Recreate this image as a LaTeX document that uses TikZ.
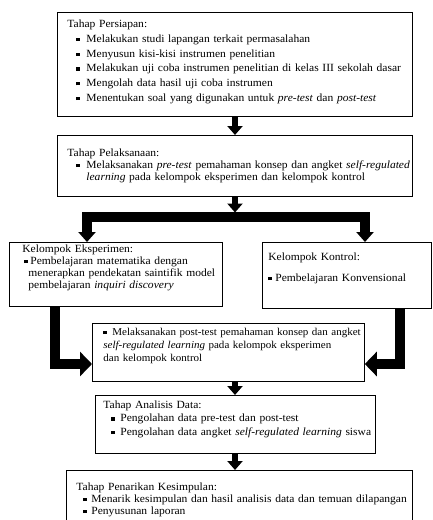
\documentclass[tikz,border=0pt]{standalone}
\usepackage{fontspec}
\setmainfont{Liberation Serif}[FakeStretch=1.05]
\usetikzlibrary{arrows.meta,positioning,calc}

\newcommand{\sqb}{\raisebox{0.25ex}{\rule{3.2pt}{3.2pt}}}
\newcommand{\bul}[2]{\hspace*{#1}\makebox[#2][l]{\sqb}}
\newcommand{\topgap}[1]{\rule{0pt}{#1}}
\newcommand{\botgap}[1]{\rule[-#1]{0pt}{#1}}

\begin{document}
\begin{tikzpicture}[
    x=1pt, y=1pt,
    stagebox/.style={draw, line width=0.8pt, anchor=north west, inner xsep=10pt, inner ysep=0pt, align=left},
    downarrow/.style={line width=6pt, -{Triangle[width=15pt,length=9pt]}},
    splitbar/.style={line width=9.5pt, line join=miter, {Triangle[width=17pt,length=10pt]}-{Triangle[width=17pt,length=10pt]}},
    elbow/.style={line width=10pt, line join=miter, -{Triangle[width=24pt,length=12pt]}}
]
\useasboundingbox (0,0) rectangle (432,-520);
\fill[white] (0,0) rectangle (432,-520);

% Tahap persiapan
\node[stagebox, text width=335pt, font=\fontsize{11}{14.8}\selectfont] (persiapan) at (57,-12) {\begin{tabular}{@{}l@{}}
\topgap{15pt}Tahap Persiapan:\\
\bul{9pt}{10pt}Melakukan studi lapangan terkait permasalahan\\
\bul{9pt}{10pt}Menyusun kisi-kisi instrumen penelitian\\
\bul{9pt}{10pt}Melakukan uji coba instrumen penelitian di kelas III sekolah dasar\\
\bul{9pt}{10pt}Mengolah data hasil uji coba instrumen\\
\bul{9pt}{10pt}Menentukan soal yang digunakan untuk \textit{pre-test} dan \textit{post-test}\botgap{15pt}
\end{tabular}};

% Tahap pelaksanaan
\node[stagebox, text width=335pt, font=\fontsize{11}{12}\selectfont] (pelaksanaan) at (57,-135) {\begin{tabular}{@{}l@{}}
\topgap{21pt}Tahap Pelaksanaan:\\
\bul{9pt}{10pt}Melaksanakan \textit{pre-test} pemahaman konsep dan angket \textit{self-regulated}\\
\hspace*{19pt}\textit{learning} pada kelompok eksperimen dan kelompok kontrol\botgap{16pt}
\end{tabular}};

% Kelompok
\node[stagebox, inner xsep=13pt, text width=187pt, font=\fontsize{11}{12}\selectfont] (eksperimen) at (9,-242) {\begin{tabular}{@{}l@{}}
\topgap{10pt}Kelompok Eksperimen:\\
\bul{2pt}{6pt}Pembelajaran matematika dengan\\
\hspace*{6pt}menerapkan pendekatan saintifik model\\
\hspace*{6pt}pembelajaran \textit{inquiri discovery}\botgap{18pt}
\end{tabular}};

\node[stagebox, inner xsep=6pt, text width=157pt, font=\fontsize{11}{12.5}\selectfont] (kontrol) at (262,-242) {\begin{tabular}{@{}l@{}}
\topgap{18pt}Kelompok Kontrol:\\[8.5pt]
\bul{0pt}{7pt}Pembelajaran Konvensional\botgap{27pt}
\end{tabular}};

% Post-test
\node[stagebox, inner xsep=11pt, text width=250pt, font=\fontsize{10.5}{13}\selectfont] (posttest) at (92,-323) {\begin{tabular}{@{}l@{}}
\topgap{12pt}\bul{0pt}{9pt}Melaksanakan post-test pemahaman konsep dan angket\\
\textit{self-regulated learning} pada kelompok eksperimen\\
dan kelompok kontrol\botgap{20pt}
\end{tabular}};

% Tahap analisis data
\node[stagebox, inner xsep=8pt, text width=264pt, font=\fontsize{11}{13.5}\selectfont] (analisis) at (95,-395) {\begin{tabular}{@{}l@{}}
\topgap{13pt}Tahap Analisis Data:\\
\bul{8pt}{9pt}Pengolahan data pre-test dan post-test\\
\bul{8pt}{9pt}Pengolahan data angket \textit{self-regulated learning} siswa\botgap{18pt}
\end{tabular}};

% Tahap penarikan kesimpulan
\node[stagebox, text width=326pt, font=\fontsize{11}{12}\selectfont] (kesimpulan) at (66,-470) {\begin{tabular}{@{}l@{}}
\topgap{20pt}Tahap Penarikan Kesimpulan:\\
\bul{7pt}{8pt}Menarik kesimpulan dan hasil analisis data dan temuan dilapangan\\
\bul{7pt}{8pt}Penyusunan laporan\botgap{5.5pt}
\end{tabular}};

% Arrows
\coordinate (axis) at (235,0);
\coordinate (barL) at (87,-217);
\coordinate (barR) at (365,-217);
\coordinate (barjoin) at (235,-212.5);
\coordinate (lcol) at (55,-364);
\coordinate (rcol) at (400,-364);

\draw[downarrow] (persiapan.south -| axis) -- (pelaksanaan.north -| axis);
\draw[downarrow] (pelaksanaan.south -| axis) -- (barjoin);
\draw[splitbar] (eksperimen.north -| barL) -- (barL) -- (barR) -- (kontrol.north -| barR);
\draw[elbow] (eksperimen.south -| lcol) |- (posttest.west |- lcol);
\draw[elbow] (kontrol.south -| rcol) |- (posttest.east |- rcol);
\draw[downarrow] (posttest.south -| axis) -- (analisis.north -| axis);
\draw[downarrow] (analisis.south -| axis) -- (kesimpulan.north -| axis);

\end{tikzpicture}
\end{document}
